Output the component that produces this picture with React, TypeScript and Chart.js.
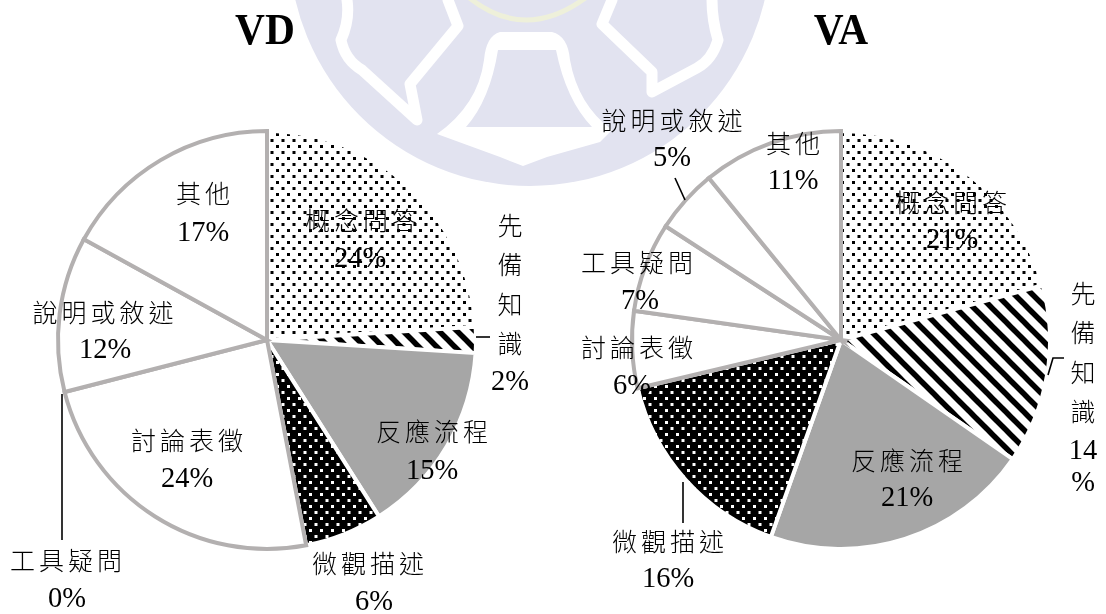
import React, { useEffect, useRef } from "react";
import { Chart, registerables } from "chart.js";

Chart.register(...registerables);

// Question categories, clockwise from twelve o'clock
const categories = ["概念問答", "先備知識", "反應流程", "微觀描述", "討論表徵", "工具疑問", "說明或敘述", "其他"];
// Share of each category, in percent
const vdShares = [24, 2, 15, 6, 24, 0, 12, 17];
const vaShares = [21, 14, 21, 16, 6, 7, 5, 11];

const GREY_EDGE = "#b3b0b0";
const GREY_FILL = "#a6a6a6";
const CREST = "#e2e3f0";
const SERIF = '"Liberation Serif", serif';
const CJK = '"Noto Sans CJK TC", sans-serif';

type Place = { name: [number, number]; value: [number, number]; stack?: number; splitValue?: number };

// Page coordinates of each category's caption, by category index
const vdPlaces: Place[] = [
  { name: [361, 220], value: [360, 258] },
  { name: [510, 225], value: [510, 381], stack: 39.5 },
  { name: [432, 431], value: [432, 470] },
  { name: [368, 563], value: [374, 601] },
  { name: [187, 440], value: [187, 478] },
  { name: [66, 560], value: [67, 598] },
  { name: [103, 312], value: [105, 349] },
  { name: [203, 193], value: [203, 232] },
];
const vaPlaces: Place[] = [
  { name: [951, 202], value: [952, 239] },
  { name: [1083, 293], value: [1083, 450], stack: 39.5, splitValue: 32 },
  { name: [907, 460], value: [907, 497] },
  { name: [668, 541], value: [668, 578] },
  { name: [637, 347], value: [632, 385] },
  { name: [637, 262], value: [640, 300] },
  { name: [672, 120], value: [672, 157] },
  { name: [793, 143], value: [793, 180] },
];

// Leader polylines joining captions to their slices
const vdLeaders: [number, number][][] = [
  [[476, 337], [490, 337]],
  [[62, 394], [62, 540]],
];
const vaLeaders: [number, number][][] = [
  [[675, 178], [685, 200]],
  [[1048, 375], [1053, 358], [1064, 358]],
  [[683, 482], [683, 523]],
];

function dotTile(ink: string, paper: string) {
  const tile = document.createElement("canvas");
  tile.width = 11;
  tile.height = 12;
  const g = tile.getContext("2d")!;
  g.fillStyle = paper;
  g.fillRect(0, 0, 11, 12);
  g.fillStyle = ink;
  g.fillRect(1, 1, 3, 3);
  g.fillRect(6.5, 7, 3, 3);
  return g.createPattern(tile, "repeat")!;
}

function stripeTile() {
  const size = 18;
  const tile = document.createElement("canvas");
  tile.width = size;
  tile.height = size;
  const g = tile.getContext("2d")!;
  g.fillStyle = "#fff";
  g.fillRect(0, 0, size, size);
  g.strokeStyle = "#000";
  g.lineWidth = 5.5;
  for (let k = -size; k <= size; k += size) {
    g.beginPath();
    g.moveTo(k - 2, -2);
    g.lineTo(k + size + 2, size + 2);
    g.stroke();
  }
  return g.createPattern(tile, "repeat")!;
}

function captionPlugin(title: string, titleX: number, shares: number[], places: Place[], leaders: [number, number][][], left: number) {
  return {
    id: "captions",
    afterDraw(chart: Chart) {
      const ctx = chart.ctx;
      ctx.save();
      ctx.translate(-left, 0);
      ctx.fillStyle = "#000";
      ctx.strokeStyle = "#000";
      ctx.lineWidth = 1.6;
      ctx.textAlign = "center";
      ctx.textBaseline = "middle";

      for (const path of leaders) {
        ctx.beginPath();
        path.forEach(([x, y], i) => (i ? ctx.lineTo(x, y) : ctx.moveTo(x, y)));
        ctx.stroke();
      }

      const latin = (text: string, x: number, y: number) => {
        ctx.font = `28.5px ${SERIF}`;
        (ctx as any).letterSpacing = "0px";
        ctx.fillText(text, x, y + 2);
      };

      places.forEach((p, i) => {
        const name = categories[i];
        ctx.font = `300 25px ${CJK}`;
        if (p.stack) {
          (ctx as any).letterSpacing = "0px";
          [...name].forEach((ch, k) => ctx.fillText(ch, p.name[0], p.name[1] + k * p.stack!));
        } else {
          (ctx as any).letterSpacing = "4px";
          ctx.fillText(name, p.name[0] + 2, p.name[1]);
        }
        if (p.splitValue) {
          latin(String(shares[i]), p.value[0], p.value[1]);
          latin("%", p.value[0], p.value[1] + p.splitValue);
        } else {
          latin(`${shares[i]}%`, p.value[0], p.value[1]);
        }
      });

      // Series heading, set slightly condensed
      ctx.save();
      ctx.translate(titleX, 32);
      ctx.scale(0.92, 1);
      ctx.font = `bold 45px ${SERIF}`;
      (ctx as any).letterSpacing = "0px";
      ctx.fillText(title, 0, 0);
      ctx.restore();
      ctx.restore();
    },
  };
}

function makePie(canvas: HTMLCanvasElement, title: string, titleX: number, shares: number[], places: Place[], leaders: [number, number][][], left: number) {
  const fills = ["#fff", "#fff", GREY_FILL, "#000", "#fff", "#fff", "#fff", "#fff"] as any[];
  fills[0] = dotTile("#000", "#fff");
  fills[1] = stripeTile();
  fills[3] = dotTile("#fff", "#000");
  return new Chart(canvas, {
    type: "pie",
    data: {
      labels: categories,
      datasets: [
        {
          data: shares,
          backgroundColor: fills,
          borderColor: ["#fff", "#fff", "#fff", "#fff", GREY_EDGE, GREY_EDGE, GREY_EDGE, GREY_EDGE],
          borderWidth: 4,
          borderJoinStyle: "miter",
        },
      ],
    },
    options: {
      animation: false,
      responsive: false,
      events: [],
      radius: 209,
      layout: { padding: { top: 130, bottom: 64, left: 0, right: 0 } },
      plugins: { legend: { display: false }, tooltip: { enabled: false }, title: { display: false } },
    },
    plugins: [captionPlugin(title, titleX, shares, places, leaders, left)],
  } as any);
}

// Faint university crest behind the charts
function Crest() {
  const white = { fill: "none", stroke: "#fff", strokeWidth: 11, strokeLinejoin: "round" as const, strokeLinecap: "round" as const };
  return (
    <svg width={1106} height={614} style={{ position: "absolute", left: 0, top: 0 }}>
      <circle cx={530} cy={-55} r={241} fill={CREST} />
      <path d="M 467 -4 Q 525 44 588 -4" fill="none" stroke="#eef0da" strokeWidth={5} />
      <path d="M 347 0 Q 350 20 341 40 Q 345 60 362 70 L 417 120 L 410 84 L 458 26 L 448 0" {...white} />
      <path d="M 712 0 Q 712 20 718 40 Q 712 60 697 68 L 652 92 L 652 72 L 602 24 L 612 0" {...white} />
      {/* Bell body and its base */}
      <path
        d="M 500 32 L 552 32 Q 568 36 570 60 Q 578 105 612 130 L 600 142 L 547 157 L 523 166 L 500 157 L 437 134 Q 478 105 484 60 Q 486 36 500 32 Z"
        fill="#fff"
      />
      <path d="M 498 50 L 556 50 Q 566 100 592 127 L 466 127 Q 490 100 498 50 Z" fill={CREST} />
    </svg>
  );
}

export default function App() {
  const vdRef = useRef<HTMLCanvasElement>(null);
  const vaRef = useRef<HTMLCanvasElement>(null);

  useEffect(() => {
    const vd = makePie(vdRef.current!, "VD", 265, vdShares, vdPlaces, vdLeaders, 0);
    const va = makePie(vaRef.current!, "VA", 841, vaShares, vaPlaces, vaLeaders, 576);
    return () => {
      vd.destroy();
      va.destroy();
    };
  }, []);

  return (
    <div style={{ position: "absolute", left: 0, top: 0, width: 1106, height: 614, overflow: "hidden", background: "#fff" }}>
      <Crest />
      <canvas ref={vdRef} width={534} height={614} style={{ position: "absolute", left: 0, top: 0 }} />
      <canvas ref={vaRef} width={530} height={614} style={{ position: "absolute", left: 576, top: 0 }} />
    </div>
  );
}
